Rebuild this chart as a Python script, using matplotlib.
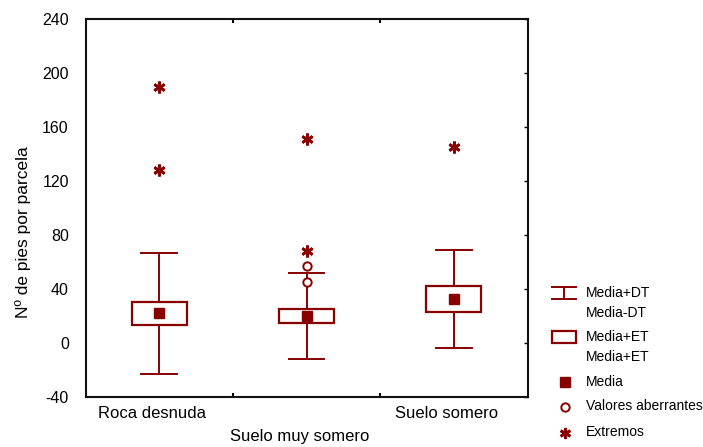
import matplotlib
matplotlib.use("Agg")
import matplotlib.pyplot as plt
from matplotlib.lines import Line2D
from matplotlib.patches import Rectangle

plt.rcParams["font.family"] = ["Liberation Sans", "DejaVu Sans"]

categories = ["Roca desnuda", "Suelo muy somero", "Suelo somero"]
means = [22.0, 20.0, 32.7]
std_err = [8.6, 5.3, 9.4]
std_dev = [44.8, 31.8, 36.5]
outliers = [[], [57.0, 45.0], []]
extremes = [[190.0, 128.0], [151.0, 68.0], [145.0]]
y_ticks = [-40, 0, 40, 80, 120, 160, 200, 240]

RED = "#880000"
W, H = 703, 447

fig = plt.figure(figsize=(W / 100, H / 100), dpi=100)
ax = fig.add_axes([85.5 / W, 1 - 397 / H, 442 / W, 378 / H])

box_w = 0.375
cap_w = 0.24
for i, (m, se, sd) in enumerate(zip(means, std_err, std_dev)):
    x = i + 0.5
    # standard deviation whiskers
    ax.plot([x, x], [m + se, m + sd], color=RED, lw=1.4, zorder=2)
    ax.plot([x, x], [m - sd, m - se], color=RED, lw=1.4, zorder=2)
    ax.plot([x - cap_w / 2, x + cap_w / 2], [m + sd, m + sd], color=RED, lw=1.4, zorder=2)
    ax.plot([x - cap_w / 2, x + cap_w / 2], [m - sd, m - sd], color=RED, lw=1.4, zorder=2)
    # standard error box
    ax.add_patch(Rectangle((x - box_w / 2, m - se), box_w, 2 * se,
                           facecolor="white", edgecolor=RED, lw=1.6, zorder=3))
    ax.plot([x], [m], marker="s", ms=7.5, color=RED, mec=RED, ls="none", zorder=4)
    if outliers[i]:
        ax.plot([x] * len(outliers[i]), outliers[i], marker="o", ms=6, mfc="white",
                mec=RED, mew=1.4, ls="none", zorder=4)
    if extremes[i]:
        ax.plot([x] * len(extremes[i]), extremes[i], marker=(6, 2, 0), ms=8.5, color=RED,
                mew=2.0, ls="none", zorder=4)

ax.set_xlim(0, 3)
ax.set_ylim(-40, 240)
ax.set_yticks(y_ticks)
ax.set_yticklabels([str(v) for v in y_ticks], fontsize=11.5)
ax.tick_params(axis="y", left=False, right=True, direction="in", length=3, width=1,
               pad=12, labelleft=True)
ax.set_xticks([1, 2])
ax.set_xticklabels([])
ax.tick_params(axis="x", top=True, bottom=True, direction="in", length=3, width=1.5)

for s in ax.spines.values():
    s.set_linewidth(1.5)
    s.set_color("#111111")

# staggered category labels
label_y = [414, 436, 414]
for i, (name, ly) in enumerate(zip(categories, label_y)):
    xd = ax.transData.transform((i + 0.5, 0))[0] - 7
    fig.text(xd / W, 1 - ly / H, name, ha="center", va="center", fontsize=12)

fig.text(23 / W, 1 - 232 / H, "Nº de pies por parcela", rotation=90,
         ha="center", va="center", fontsize=12.5)

# legend rows drawn in figure coordinates
legend_rows = [
    ("whisker", "Media+DT", "Media-DT", 293),
    ("box", "Media+ET", "Media+ET", 337),
]
for kind, t1, t2, yy in legend_rows:
    if kind == "whisker":
        for yv in (yy - 6, yy + 6):
            fig.add_artist(Line2D([552 / W, 576 / W], [1 - yv / H] * 2, color=RED, lw=1.4))
        fig.add_artist(Line2D([564 / W] * 2, [1 - (yy - 6) / H, 1 - (yy + 6) / H],
                              color=RED, lw=1.4))
    else:
        fig.add_artist(Rectangle((552 / W, 1 - (yy + 6) / H), 24 / W, 12 / H,
                                 transform=fig.transFigure, facecolor="white",
                                 edgecolor=RED, lw=1.6))
    fig.text(586 / W, 1 - yy / H, t1, ha="left", va="center", fontsize=10)
    fig.text(586 / W, 1 - (yy + 20) / H, t2, ha="left", va="center", fontsize=10)

marker_rows = [
    (dict(marker="s", ms=7, color=RED, mec=RED), "Media", 381.5),
    (dict(marker="o", ms=6, mfc="white", mec=RED, mew=1.4), "Valores aberrantes", 406.5),
    (dict(marker=(6, 2, 0), ms=8, color=RED, mew=2.0), "Extremos", 432.5),
]
for style, txt, yy in marker_rows:
    fig.add_artist(Line2D([565 / W], [1 - yy / H], ls="none", **style))
    fig.text(586 / W, 1 - yy / H, txt, ha="left", va="center", fontsize=10)

fig.savefig("out.png", dpi=100)
